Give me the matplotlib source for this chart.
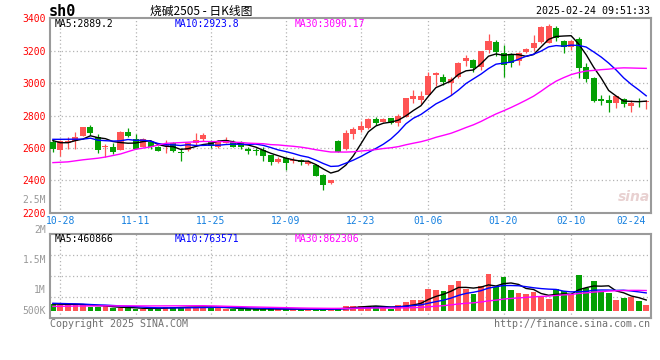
import matplotlib
matplotlib.use("Agg")
import matplotlib.pyplot as plt
import numpy as np
import pandas as pd

# trading days shown (10-25 .. 02-24, minus new year / spring festival)
holidays = ["2025-01-01", "2025-01-28", "2025-01-29", "2025-01-30",
            "2025-01-31", "2025-02-03", "2025-02-04"]
days = pd.bdate_range("2024-10-25", "2025-02-24")
days = days[~days.isin(pd.to_datetime(holidays))]
day_labels = [d.strftime("%m-%d") for d in days]

tick_dates = ["10-28", "11-11", "11-25", "12-09", "12-23", "01-06", "01-20", "02-10", "02-24"]

# daily OHLC
open_ = [2636, 2588, 2632, 2644, 2673, 2729, 2667, 2605, 2605, 2587,
         2698, 2655, 2607, 2636, 2608, 2612, 2628, 2577, 2587, 2628,
         2652, 2634, 2603, 2633, 2639, 2630, 2596, 2590, 2584, 2556,
         2513, 2536, 2521, 2527, 2498, 2497, 2433, 2383, 2645, 2591,
         2685, 2710, 2720, 2776, 2762, 2782, 2756, 2793, 2902, 2896,
         2926, 3048, 3038, 2998, 3036, 3138, 3143, 3097, 3204, 3251,
         3188, 3177, 3138, 3194, 3215, 3256, 3250, 3338, 3260, 3225,
         3270, 3097, 3029, 2900, 2896, 2875, 2900, 2858, 2887, 2885]
high = [2652, 2649, 2665, 2697, 2731, 2743, 2688, 2626, 2628, 2704,
        2723, 2686, 2661, 2638, 2612, 2647, 2638, 2597, 2632, 2690,
        2690, 2649, 2649, 2668, 2649, 2640, 2607, 2601, 2604, 2556,
        2546, 2546, 2546, 2531, 2525, 2500, 2439, 2402, 2649, 2708,
        2728, 2768, 2784, 2789, 2784, 2784, 2809, 2908, 2955, 2951,
        3068, 3068, 3058, 3036, 3128, 3174, 3149, 3198, 3303, 3266,
        3235, 3188, 3190, 3217, 3297, 3352, 3365, 3352, 3266, 3266,
        3287, 3126, 3040, 2926, 2926, 2920, 2906, 2896, 2906, 2896]
low = [2577, 2552, 2595, 2596, 2671, 2682, 2566, 2546, 2560, 2587,
       2669, 2591, 2605, 2591, 2579, 2571, 2577, 2521, 2583, 2614,
       2645, 2597, 2601, 2628, 2603, 2595, 2563, 2558, 2520, 2494,
       2505, 2463, 2505, 2496, 2492, 2426, 2340, 2378, 2575, 2585,
       2655, 2700, 2716, 2743, 2758, 2747, 2735, 2789, 2875, 2871,
       2926, 2984, 2988, 2926, 3033, 3105, 3070, 3081, 3184, 3170,
       3035, 3097, 3112, 3188, 3200, 3250, 3245, 3262, 3188, 3204,
       3029, 3009, 2883, 2865, 2823, 2844, 2854, 2823, 2850, 2838]
close = [2593, 2645, 2640, 2666, 2729, 2694, 2587, 2609, 2577, 2698,
         2673, 2593, 2653, 2604, 2583, 2617, 2583, 2566, 2628, 2649,
         2678, 2611, 2644, 2648, 2608, 2606, 2583, 2580, 2551, 2515,
         2531, 2509, 2525, 2511, 2514, 2428, 2372, 2399, 2576, 2692,
         2718, 2735, 2776, 2756, 2776, 2752, 2797, 2908, 2922, 2922,
         3044, 3064, 3009, 3027, 3124, 3155, 3091, 3198, 3262, 3194,
         3111, 3122, 3188, 3210, 3250, 3348, 3354, 3276, 3225, 3260,
         3091, 3025, 2889, 2892, 2875, 2920, 2869, 2879, 2883, 2892]
# closes before the window (inferred from where the MA lines start)
pre_close = [2575, 2570, 2475, 2540, 2545, 2440, 2390, 2295, 2415, 2240,
             2165, 2430, 2380, 2240, 2305, 2510, 2495, 2555, 2575, 2605,
             2645, 2636, 2662, 2725, 2637, 2710, 2640, 2601, 2681]

volume = [281000, 265000, 265000, 307000, 239000, 168000, 168000, 197000, 126000, 126000,
          126000, 97000, 97000, 97000, 139000, 168000, 168000, 168000, 168000, 168000,
          168000, 168000, 126000, 97000, 84000, 84000, 84000, 84000, 97000, 84000,
          71000, 71000, 71000, 71000, 71000, 71000, 71000, 97000, 126000, 210000,
          210000, 210000, 210000, 210000, 113000, 97000, 239000, 370000, 449000, 449000,
          916000, 874000, 827000, 1079000, 1247000, 932000, 727000, 1037000, 1541000, 1008000,
          1428000, 869000, 735000, 693000, 790000, 588000, 496000, 911000, 819000, 693000,
          1530000, 950000, 1260000, 780000, 770000, 449000, 560000, 600000, 430000, 270000]
pre_volume = [134000, 118000, 126000, 143000, 109000, 126000, 139000, 122000, 130000, 113000,
              126000, 134000, 118000, 130000, 126000, 122000, 139000, 113000, 126000, 130000,
              361000, 344000, 378000, 336000, 357000, 319000, 286000, 302000, 286000]

# legend values as printed on the chart
price_leg = ["MA5:2889.2", "MA10:2923.8", "MA30:3090.17"]
vol_leg = ["MA5:460866", "MA10:763571", "MA30:862306"]
vol_axis_labels = ["2.5M", "2M", "1.5M", "1M", "500K"]

RED = "#ff5454"
GREEN = "#04a004"
GRID = "#b4b4b4"
FRAME = "#9a9a9a"
MONO = "DejaVu Sans Mono"

W, H = 660, 360


def fx(px):
    return px / W


def fy(py):
    return 1 - py / H


n = len(close)
x = np.arange(n)
all_close = pd.Series(pre_close + close)
all_vol = pd.Series(pre_volume + volume)
ma = {k: all_close.rolling(k).mean().iloc[len(pre_close):].values for k in (5, 10, 30)}
vma = {k: all_vol.rolling(k).mean().iloc[len(pre_volume):].values for k in (5, 10, 30)}
ma_colors = {5: "black", 10: "#0000ff", 30: "#ff00ff"}

up = np.array(close) >= np.array(open_)
colors = np.where(up, RED, GREEN)

fig = plt.figure(figsize=(6.6, 3.6), dpi=100)
ax = fig.add_axes([fx(50.5), fy(212.7), fx(600), 194.4 / H])
vax = fig.add_axes([fx(50.5), fy(318), fx(600), 83.7 / H])

xlim = (-0.32, 79.57)
tick_idx = [day_labels.index(d) for d in tick_dates]

for a in (ax, vax):
    a.set_xlim(*xlim)
    for s in a.spines.values():
        s.set_color(FRAME)
        s.set_linewidth(1.5)
    for t in tick_idx[:-1]:
        a.axvline(t, color=GRID, lw=0.9, ls=(0, (1, 2)), zorder=0)

# price panel
ax.set_ylim(2200, 3400)
ax.set_yticks(range(2200, 3401, 200))
ax.tick_params(axis="y", length=0, pad=3.2, labelcolor="#ff0000", labelsize=7)
for lab in ax.get_yticklabels():
    lab.set_family(MONO)
for yv in range(2400, 3400, 200):
    ax.axhline(yv, color=GRID, lw=0.9, ls=(0, (1, 2)), zorder=0)

ax.set_xticks(tick_idx)
ax.set_xticklabels(tick_dates, family=MONO, fontsize=7, color="#1580e0")
ax.tick_params(axis="x", length=0, pad=2.4)
ax.get_xticklabels()[-1].set_ha("right")

body = np.maximum(np.abs(np.array(close) - np.array(open_)), 4)
ax.vlines(x, low, high, colors=colors, lw=0.9, zorder=2)
ax.bar(x, body, bottom=np.minimum(open_, close), width=0.8, color=colors, zorder=3)
for k in (5, 10, 30):
    ax.plot(x, ma[k], color=ma_colors[k], lw=1.0, zorder=4)

# volume panel
vmin, vmax = -294000, 3221000
vax.set_ylim(vmin, vmax)
vax.set_yticks([])
vax.set_xticks([])
for j in (1, 2, 3):
    vax.axhline(vmin + j * (vmax - vmin) / 4, color=GRID, lw=0.9, ls=(0, (1, 2)), zorder=0)
vax.bar(x, volume, width=0.78, color=colors, zorder=2)
for k in (5, 10, 30):
    vax.plot(x, vma[k], color=ma_colors[k], lw=1.0, zorder=3)

for lab, py in zip(vol_axis_labels, [200, 230, 260, 290, 311]):
    fig.text(fx(46), fy(py), lab, ha="right", va="center", family=MONO, fontsize=7, color="#999999")

# legends
for px, txt, k in zip([55, 174.5, 295], price_leg, (5, 10, 30)):
    fig.text(fx(px), fy(24), txt, ha="left", va="center", family=MONO, fontsize=7, color=ma_colors[k])
for px, txt, k in zip([55, 174.5, 295], vol_leg, (5, 10, 30)):
    fig.text(fx(px), fy(239.5), txt, ha="left", va="center", family=MONO, fontsize=7, color=ma_colors[k])

# header
fig.text(fx(49), fy(11.5), "sh0", ha="left", va="center", family=MONO, fontsize=11,
         fontweight="bold", color="black")
fig.text(fx(201), fy(11), "烧碱2505 - 日K线图", ha="center", va="center",
         family=["Noto Sans CJK SC", "DejaVu Sans"], fontsize=8.5, color="black")
fig.text(fx(650), fy(11), "2025-02-24 09:51:33", ha="right", va="center", family=MONO,
         fontsize=7.2, color="black")

# footer
fig.text(fx(50), fy(324), "Copyright 2025 SINA.COM", ha="left", va="center", family=MONO,
         fontsize=7.2, color="#707070")
fig.text(fx(650), fy(324), "http://finance.sina.com.cn", ha="right", va="center", family=MONO,
         fontsize=7.2, color="#707070")

# watermark
fig.text(fx(634), fy(197), "sina", ha="center", va="center", fontsize=10, style="italic",
         fontweight="bold", color="#e6cccc", alpha=0.9)

fig.savefig("out.png", dpi=100)
